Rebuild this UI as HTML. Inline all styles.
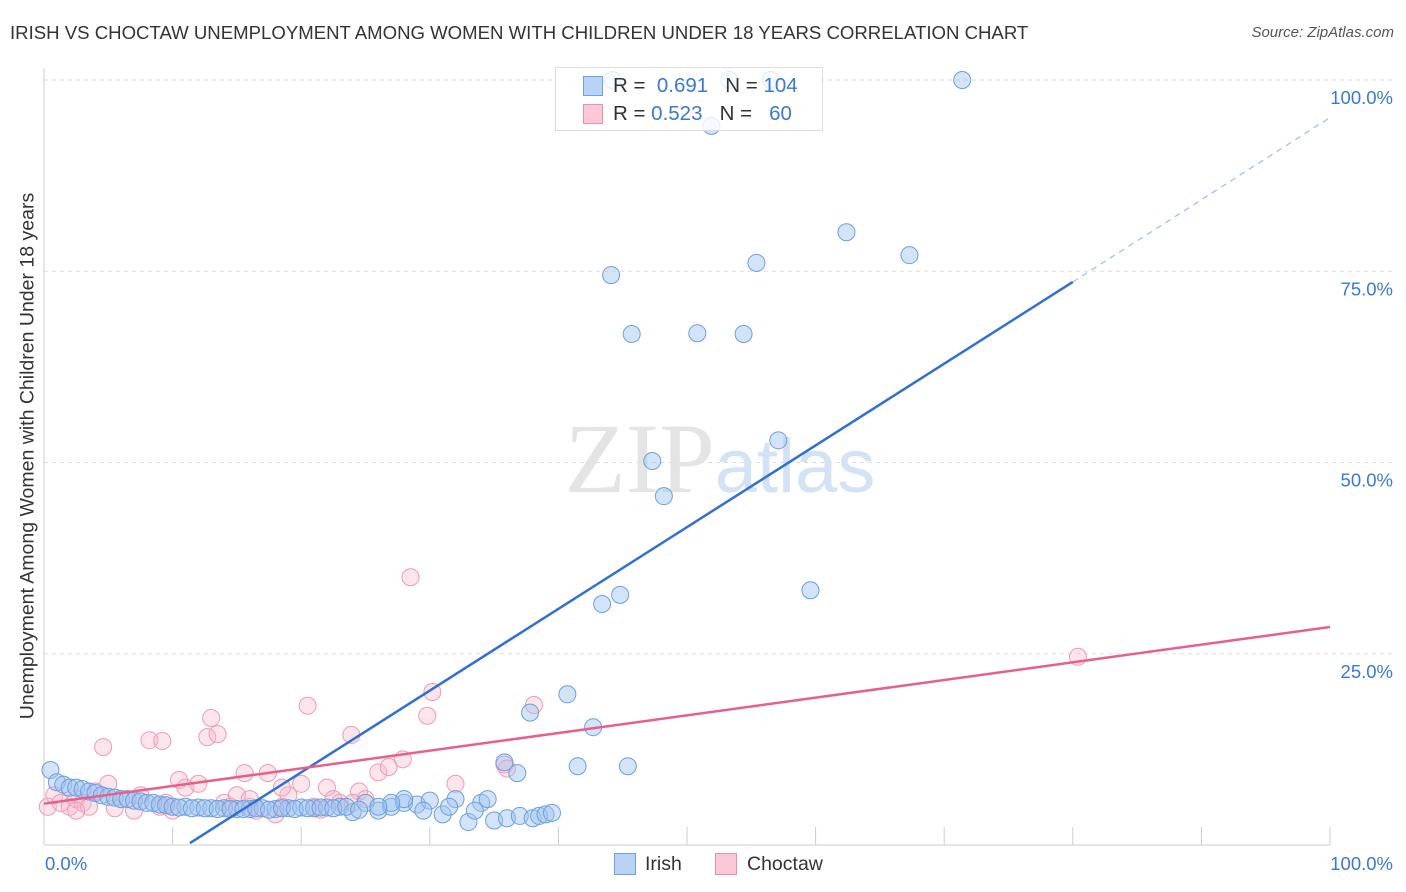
<!DOCTYPE html>
<html><head><meta charset="utf-8">
<style>
body{margin:0;background:#fff;font-family:"Liberation Sans",sans-serif;}
#wrap{position:relative;width:1406px;height:892px;overflow:hidden;}
.t{position:absolute;white-space:nowrap;}
</style></head>
<body>
<div id="wrap">
<div class="t" style="left:10px;top:22px;font-size:18.6px;color:#333;">IRISH VS CHOCTAW UNEMPLOYMENT AMONG WOMEN WITH CHILDREN UNDER 18 YEARS CORRELATION CHART</div>
<div class="t" style="right:12px;top:24px;font-size:15px;color:#555;font-style:italic;">Source: ZipAtlas.com</div>
<div class="t" style="left:28px;top:456px;font-size:19.5px;color:#333;transform:translate(-50%,-50%) rotate(-90deg);">Unemployment Among Women with Children Under 18 years</div>
<svg id="chart" width="1406" height="892" style="position:absolute;left:0;top:0"></svg>
<div style="position:absolute;left:555px;top:67px;width:266px;height:62px;border:1px solid #ddd;background:rgba(255,255,255,0.8);font-size:20.5px;">
 <div style="position:absolute;left:27px;top:8px;width:18px;height:18px;background:#b9d3f7;border:1px solid #6fa0e6;"></div>
 <div class="t" style="left:57px;top:6px;color:#333;">R = <span style="color:#3a78d6">&nbsp;0.691</span>&nbsp;&nbsp; N = <span style="color:#3a78d6">104</span></div>
 <div style="position:absolute;left:27px;top:36px;width:18px;height:18px;background:#fbc8d7;border:1px solid #eb8fab;"></div>
 <div class="t" style="left:57px;top:34px;color:#333;">R = <span style="color:#3a78d6">0.523</span>&nbsp;&nbsp; N = <span style="color:#3a78d6">&nbsp;&nbsp;60</span></div>
</div>
<div style="position:absolute;left:614px;top:853px;">
 <div style="position:absolute;left:0;top:0;width:20px;height:20px;background:#b9d3f7;border:1px solid #6fa0e6;"></div>
 <div class="t" style="left:31px;top:0;font-size:19.5px;color:#333;">Irish</div></div>
<div style="position:absolute;left:715px;top:853px;">
 <div style="position:absolute;left:0;top:0;width:20px;height:20px;background:#fbc8d7;border:1px solid #eb8fab;"></div>
 <div class="t" style="left:32px;top:0;font-size:19.5px;color:#333;">Choctaw</div></div>
</div>
<script>
const yTicks=[25,50,75,100];
const yTickLabels=["25.0%","50.0%","75.0%","100.0%"];
const xTicks=[10,20,30,40,50,60,70,80,90,100];
const irishX=[0.5,1,1.5,2,2.5,3,3.5,4,4.5,5, 5.5,6,6.5,7,7.5,8,8.5,9,9.5,10, 11,12,13,14,15,16,17,18,19,20, 21,22,23,24,25,26,27,28,29,30,
 10.5,11.5,12.5,13.5,14.5,15.5,16.5,17.5,18.5,19.5, 20.5,21.5,22.5,23.5,24.5,31,32,33,34,35,
 36,37,38,38.5,39,39.5,31.5,33.5,34.5,29.5,
 71.4,51.9,44.2,53.3,56.5,62.4,67.3,55.4,44.1,45.7,50.8,54.4,57.1,47.3,48.2,59.6,44.8,43.4,40.7,42.7,37.8,41.5,45.4,35.8,
 36.8,28,27,26];
const irishY=[9.8,8.2,7.9,7.5,7.5,7.3,7,6.8,6.5,6.3, 6.2,6,6,5.8,5.7,5.5,5.5,5.3,5.2,5, 5,4.9,4.8,4.8,4.7,4.7,4.8,4.7,4.8,4.9, 4.8,4.9,5,4.3,5.5,4.5,5,5.5,5.3,5.8,
 4.9,4.8,4.8,4.7,4.7,4.7,4.8,4.6,4.8,4.7, 4.8,4.9,4.8,5,4.6,4,6,3,5.5,3.2,
 3.5,3.8,3.5,3.8,4,4.2,5,4.5,6,4.5,
 100,94,100,100,100,80.1,77.1,76.1,74.5,66.8,66.9,66.8,52.9,50.2,45.6,33.3,32.7,31.5,19.7,15.4,17.3,10.3,10.3,10.8,
 9.4,6,5.5,5];
const chocX=[0.3,0.8,1.3,2,2.5,3,3.5,4,4.6,5,6,7,7.5,8.2,9.2,9,10,10.5,11,12,12.7,13,13.5,14,14.5,15,15.6,16,16.5,17.4,18,18.5,19,20,20.5,21,22,22.5,23,23.9,24.5,25,26,26.8,27.9,28.5,29.8,30.2,32,35.8,36,38.1,80.4,2.5,5.5,9.5,16,18.5,21.5,24];
const chocY=[5,6.5,5.5,5,6,5.5,5,7,12.8,8,6,4.5,6.5,13.7,13.6,5,4.5,8.5,7.5,8,14.1,16.6,14.5,5.5,5,6.5,9.4,5,4.5,9.4,4,5,6.5,8,18.2,5,7.5,6,5.5,14.4,7,6,9.5,10.2,11.2,35,16.9,20,8,10.5,10,18.3,24.6,4.5,4.8,5.5,6,7.5,4.6,5.5];
const irishLine=[[11.35,0.26],[80,73.6]];
const irishDash=[[80,73.6],[100,95.1]];
const chocLine=[[0,5.4],[100,28.5]];
const X0=44,X1=1330,Y0=845,Y100=80;
const sx=v=>X0+(X1-X0)*v/100, sy=v=>Y0-(Y0-Y100)*v/100;
const svg=document.getElementById('chart');const NS='http://www.w3.org/2000/svg';
function mk(t,a){const e=document.createElementNS(NS,t);for(const k in a)e.setAttribute(k,a[k]);svg.appendChild(e);return e;}
yTicks.forEach((v,i)=>{
 const g=mk('line',{x1:X0,x2:1393,y1:sy(v),y2:sy(v),stroke:'#ddd','stroke-dasharray':'4,4'});
 
 
 const t=mk('text',{x:1393,y:sy(v)+24,'text-anchor':'end','font-size':18.5,fill:'#3a78d6','font-family':'Liberation Sans'});
 t.textContent=yTickLabels[i];
 
 
});
const ax=mk('line',{x1:X0,x2:X1,y1:Y0,y2:Y0,stroke:'#ccc'});


const ay=mk('line',{x1:X0,x2:X0,y1:68,y2:Y0,stroke:'#ccc'});


xTicks.forEach(v=>{const l=mk('line',{x1:sx(v),x2:sx(v),y1:Y0-18,y2:Y0,stroke:'#ccc'});
 
 });
const xl=mk('text',{x:45,y:870,'font-size':18.5,fill:'#3a78d6','font-family':'Liberation Sans'});xl.textContent='0.0%';


const xr=mk('text',{x:1393,y:870,'text-anchor':'end','font-size':18.5,fill:'#3a78d6','font-family':'Liberation Sans'});xr.textContent='100.0%';


const wm=mk('text',{x:720,y:492,'text-anchor':'middle','font-size':100,fill:'#e4e4e4','font-family':'Liberation Serif'});wm.innerHTML='ZIP<tspan font-family="Liberation Sans" font-size="76" fill="#d3e2f5">atlas</tspan>';


chocX.forEach((x,i)=>{const c=mk('circle',{cx:sx(x),cy:sy(chocY[i]),r:8.5,fill:'rgba(248,180,200,0.35)',stroke:'#ef9ab4','stroke-width':1});
 
 });
irishX.forEach((x,i)=>{const c=mk('circle',{cx:sx(x),cy:sy(irishY[i]),r:8.5,fill:'rgba(160,196,240,0.45)',stroke:'#6a9fe4','stroke-width':1});
 
 });
const l1=mk('line',{x1:sx(irishLine[0][0]),y1:sy(irishLine[0][1]),x2:sx(irishLine[1][0]),y2:sy(irishLine[1][1]),stroke:'#2f6fd6','stroke-width':2.5});


const l2=mk('line',{x1:sx(irishDash[0][0]),y1:sy(irishDash[0][1]),x2:sx(irishDash[1][0]),y2:sy(irishDash[1][1]),stroke:'#9dbdea','stroke-width':1.2,'stroke-dasharray':'6,5'});


const l3=mk('line',{x1:sx(chocLine[0][0]),y1:sy(chocLine[0][1]),x2:sx(chocLine[1][0]),y2:sy(chocLine[1][1]),stroke:'#e8608a','stroke-width':2.5});


</script>
</body></html>
